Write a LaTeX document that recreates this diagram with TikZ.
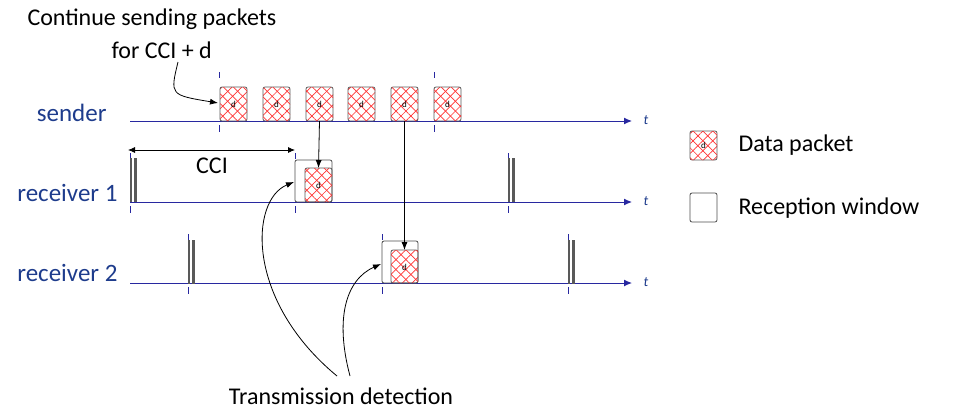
\documentclass[tikz,border=0pt]{standalone}
\usepackage{fontspec}
\setmainfont{Carlito}
\usetikzlibrary{patterns.meta,arrows.meta}
\definecolor{ax}{RGB}{40,40,160}
\definecolor{lbl}{RGB}{30,60,140}
\begin{document}
\begin{tikzpicture}[x=1pt,y=-1pt,
  axis/.style={draw=ax,line width=1pt,-{Latex[length=8pt,width=7pt]}},
  tick/.style={draw=ax,dash pattern=on 6pt off 38pt,line width=0.8pt},
  pkt/.style={draw=gray!70!black,rounded corners=2pt,line width=0.8pt,
    pattern={Lines[angle=45,distance=7pt,line width=0.7pt]},pattern color=red!80,
    postaction={pattern={Lines[angle=-45,distance=7pt,line width=0.7pt]},pattern color=red!80}},
  win/.style={draw=gray!60!black,rounded corners=2pt,line width=0.8pt},
  spike/.style={fill=gray!70!black,draw=none},
  lab/.style={font=\fontsize{25}{30}\selectfont,text=lbl},
  txt/.style={font=\fontsize{24}{29}\selectfont},
  dd/.style={font=\fontsize{9}{10}\selectfont},
  conn/.style={draw=black,line width=0.8pt,-{Latex[length=8pt,width=6pt]}}]
\useasboundingbox (0,0) rectangle (955,418);
% axes
\foreach \n/\y in {s/121,r/202,q/283}{
  \coordinate (\n0) at (130,\y);
  \coordinate (\n1) at (632,\y);
  \draw[axis] (\n0) -- (\n1);
  \node[font=\itshape\fontsize{14}{16}\selectfont,text=lbl] (\n t) at (646,\y-1) {t};
}
\node[lab,anchor=east] (ls) at (110,113) {sender};
\node[lab,anchor=east] (lr) at (121,193) {receiver 1};
\node[lab,anchor=east] (lq) at (121,273) {receiver 2};
% ticks: short dashes above and below the axes
\foreach \x/\y in {219/121,434/121,295/202,508/202,130/202,382/283,188/283,568/283}{
  \draw[draw=ax,line width=0.8pt] (\x,\y-49) -- (\x,\y-43);
  \draw[draw=ax,line width=0.8pt] (\x,\y+4) -- (\x,\y+11);
}
% sender packets
\foreach \i/\x in {1/220,2/263,3/306,4/348,5/391,6/434}{
  \draw[pkt] (\x,87) rectangle (\x+27,121);
  \node[dd] (p\i) at (\x+13.5,104) {d};
  \coordinate (pb\i) at (\x+13.5,121);
}
% receiver 1 window
\draw[win] (295,160) rectangle (332,202);
\draw[pkt] (305,168) rectangle (332,202);
\node[dd] (rp1) at (318.5,185) {d};
\coordinate (rt1) at (318.5,168);
% receiver 2 window
\draw[win] (382,241) rectangle (418,283);
\draw[pkt] (391,250) rectangle (418,283);
\node[dd] (rp2) at (404.5,267) {d};
\coordinate (rt2) at (404.5,250);
\draw[conn] (pb3) -- (rt1);
\draw[conn] (pb5) -- (rt2);
% spikes
\foreach \x/\y in {130/158,508/158,188/240,568/240}{
  \fill[spike] (\x,\y) rectangle (\x+2,\y+44);
  \fill[spike] (\x+4,\y) rectangle (\x+6.5,\y+44);
}
% CCI
\coordinate (c0) at (128,150);
\coordinate (c1) at (295,150);
\draw[draw=black,line width=0.8pt,{Latex[length=7pt,width=6pt]}-{Latex[length=7pt,width=6pt]}] (c0) -- (c1);
\node[txt] (cci) at (212,166) {CCI};
% top text
\node[txt,anchor=west] (t1) at (24,19) {Continue sending packets};
\node[txt,anchor=west] (t2) at (108,50) {for CCI + d};
\coordinate (a0) at (178,62);
\coordinate (a1) at (218,103);
\draw[conn] (a0) .. controls (170,95) .. (a1);
% transmission detection
\node[txt] (td) at (341,396) {Transmission detection};
\coordinate (w1) at (294,182);
\coordinate (w2) at (381,264);
\draw[conn] (337,376) .. controls (245,300) and (250,200) .. (w1);
\draw[conn] (350,376) .. controls (335,320) and (345,280) .. (w2);
% legend
\draw[pkt] (690,131) rectangle (717,160);
\node[dd] (lgd) at (703.5,145.5) {d};
\node[txt,anchor=west] (lg1) at (735,145) {Data packet};
\draw[win] (690,193) rectangle (717,222);
\node[txt,anchor=west] (lg2) at (735,208) {Reception window};
\end{tikzpicture}
\end{document}
